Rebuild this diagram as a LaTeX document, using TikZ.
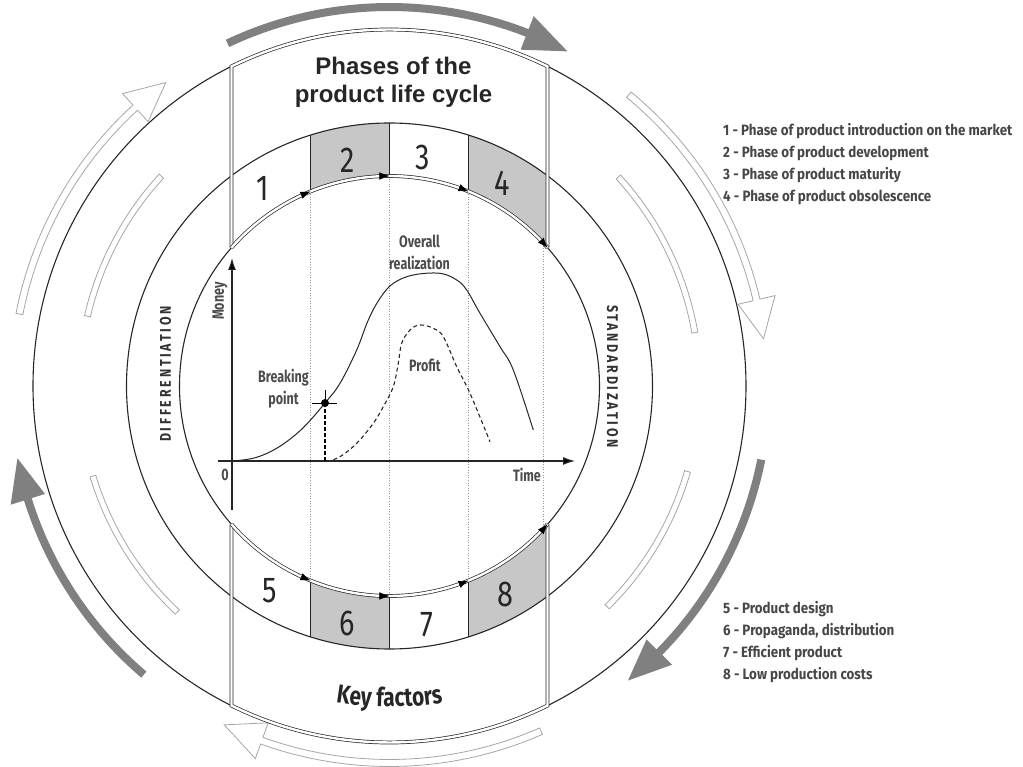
\documentclass[tikz,border=0pt]{standalone}
\usepackage{fontspec}
\setmainfont{Fira Sans}
\newfontfamily\titlefont{Liberation Sans}
\newfontfamily\numfont[FakeStretch=0.8]{Fira Sans}
\newfontfamily\condfont[FakeStretch=0.76]{Fira Sans}
\newfontfamily\legendfont[FakeStretch=0.89]{Fira Sans}
\newfontfamily\spacedfont[FakeStretch=0.8, LetterSpace=18]{Fira Sans}
\usetikzlibrary{arrows.meta, decorations.text}

\begin{document}
\begin{tikzpicture}[
        x=1pt, y=1pt,
        ring/.style={draw=black!85, line width=1.1pt},
        dbl-line/.style={draw=black!85, line width=0.7pt, double=white, double distance=2.4pt, line join=miter},
        phase-cell/.style={fill=black!22},
        guide/.style={draw=black!40, dotted, line width=0.6pt},
        gray-arrow/.style={fill=black!50},
        hollow-arrow/.style={draw=black!35, line width=0.8pt, fill=white},
        arr-tip/.style={-{Latex[length=10pt, width=7.5pt]}, line width=0.5pt, draw=black},
        num/.style={font=\numfont\fontsize{36}{36}\selectfont, inner sep=0pt, text=black!85},
        lbl/.style={font=\condfont\bfseries\fontsize{16.5}{22}\selectfont, inner sep=0pt, text=black!70, align=center},
        side-text/.style={font=\spacedfont\bfseries\fontsize{15.5}{15.5}\selectfont, inner sep=0pt, text=black!80},
        legend-text/.style={font=\legendfont\bfseries\fontsize{15}{21.9}\selectfont, inner sep=0pt, text=black!72, align=left},
    ]
    \useasboundingbox (-389.5,-381) rectangle (633.5,386);

    % arrows round the outside
    \foreach \a/\b/\t in {115.3/68.7/62, 229.6/197.4/191, -11.2/-44.6/-51}
        \fill[gray-arrow] (\a:375) arc[start angle=\a, end angle=\b, radius=375]
            -- (\b:361) -- (\t:379) -- (\b:397) -- (\b:383)
            arc[start angle=\b, end angle=\a, radius=383] -- cycle;
    \foreach \a/\b/\t in {169/132.4/126.4, 50.6/13.2/7.2, -66.3/-109.8/-116}
        \draw[hollow-arrow] (\a:373.5) arc[start angle=\a, end angle=\b, radius=373.5]
            -- (\b:358) -- (\t:377) -- (\b:396) -- (\b:380.5)
            arc[start angle=\b, end angle=\a, radius=380.5] -- cycle;
    \foreach \a/\b in {137.4/167, 196.9/226.8, 42.4/9.9, -16/-45.4}
        \draw[hollow-arrow] (\a:313) arc[start angle=\a, end angle=\b, radius=313]
            -- (\b:307) arc[start angle=\b, end angle=\a, radius=307] -- cycle;

    % gray phases
    \begin{scope}
        \clip (-79,0) rectangle (0,270) (79,0) rectangle (158,270)
              (-79,0) rectangle (0,-270) (79,0) rectangle (158,-270);
        \fill[phase-cell, even odd rule] (0,0) circle[radius=263] (0,0) circle[radius=210];
    \end{scope}

    \foreach \x/\y in {-79/194.6, 0/210, 79/194.6, 154/142.8}
        \draw[guide] (\x,\y) -- (\x,-\y);

    \draw[ring] (0,0) circle[radius=356.5];
    \draw[ring] (0,0) circle[radius=263];
    \draw[ring] (0,0) circle[radius=210];
    \foreach \x/\y/\Y in {-79/194.6/250.9, 0/210/263, 79/194.6/250.9} {
        \draw[ring, line width=0.9pt] (\x,\y) -- (\x,\Y);
        \draw[ring, line width=0.9pt] (\x,-\y) -- (\x,-\Y);
    }

    % frame of the two boxes
    \draw[dbl-line] (-158,138.3) -- (116.31:356.5)
        arc[start angle=116.31, end angle=63.69, radius=356.5] -- (158,138.3);
    \draw[dbl-line] (-158,-138.3) -- (243.69:356.5)
        arc[start angle=243.69, end angle=296.31, radius=356.5] -- (158,-138.3);
    \draw[dbl-line] (138.81:210) arc[start angle=138.81, end angle=41.19, radius=210];
    \draw[dbl-line] (221.19:210) arc[start angle=221.19, end angle=318.81, radius=210];
    \foreach \t in {112.1, 90, 67.9, 41.19}
        \draw[arr-tip] ({\t+2.5}:210) arc[start angle=\t+2.5, end angle=\t, radius=210];
    \foreach \t in {247.9, 270, 292.1, 318.81}
        \draw[arr-tip] ({\t-2.5}:210) arc[start angle=\t-2.5, end angle=\t, radius=210];

    \node[font=\titlefont\bfseries\fontsize{24}{28}\selectfont, align=center, text=black!85, inner sep=0pt]
        (title) at (4,304) {Phases of the\\product life cycle};
    \foreach \n/\x/\y in {1/-126.5/198, 2/-41.5/226, 3/33.5/228, 4/112.5/203,
                          5/-119.5/-205, 6/-42.5/-237, 7/37.5/-239, 8/115.5/-208}
        \node[num] (phase-\n) at (\x,\y) {\n};
    \path[decorate, decoration={text along path, text align=center, text color=black!85,
            text={|\numfont\bfseries\fontsize{26}{26}\selectfont|Key factors}}]
        (245:321) arc[start angle=245, end angle=295, radius=321];

    \node[side-text, rotate=90] (diff) at (-224,12) {DIFFERENTIATION};
    \node[side-text, rotate=-90] (std) at (223,9.5) {STANDARDIZATION};

    % the graph
    \draw[ring, -{Latex[length=12pt, width=8pt]}] (-157.5,-124) -- (-157.5,128);
    \draw[ring, -{Latex[length=12pt, width=8pt]}] (-171.5,-75) -- (185.5,-75);
    \node[lbl, rotate=90] (money) at (-169.5,85) {Money};
    \node[lbl] (origin) at (-164.5,-89) {0};
    \node[lbl] (time) at (137.5,-89) {Time};
    \node[lbl] (overall) at (30,134) {Overall\\realization};
    \node[lbl] (profit) at (35.5,21) {Profit};
    \node[lbl] (breaking) at (-106,-2.5) {Breaking\\point};

    \draw[ring, line width=1pt] plot[smooth, tension=0.6] coordinates {
        (-157.5,-75) (-134.5,-71.8) (-111.5,-61.5) (-87.5,-42.9) (-64.5,-17) (-49.5,2.7)
        (-32.8,36) (-21.2,66) (-9.5,87.7) (3.8,102.7) (23.8,111) (50.5,112.7) (67.2,106)
        (77.2,96) (90.5,72.7) (110.5,39.3) (123.8,16) (143.8,-44)};
    \draw[ring, line width=1.1pt, dash pattern=on 4pt off 3pt] plot[smooth, tension=0.6] coordinates {
        (-62.8,-75.7) (-49.5,-70.7) (-32.8,-57.3) (-16.2,-37.3) (-6.2,-20.7) (3.8,-0.7)
        (8.8,22.7) (12.2,42.7) (20.5,56) (30.5,61) (43.8,57.7) (53.8,49.3) (67.2,19.3)
        (80.5,-7.3) (100.5,-55.7)};
    \fill[black] (-64.5,-17) circle[radius=4];
    \draw[line width=0.8pt] (-77.5,-17) -- (-52.5,-17) (-64.5,-4) -- (-64.5,-17);
    \draw[line width=1.3pt, dash pattern=on 4pt off 2pt] (-64.5,-17) -- (-64.5,-75);

    % legends
    \node[legend-text, anchor=north west] (phase-list) at (333.5,262.5) {1 - Phase of product introduction on the market\\
        2 - Phase of product development\\3 - Phase of product maturity\\4 - Phase of product obsolescence};
    \node[legend-text, anchor=north west] (factor-list) at (333.5,-215.5) {5 - Product design\\
        6 - Propaganda, distribution\\7 - Efficient product\\8 - Low production costs};
\end{tikzpicture}
\end{document}
